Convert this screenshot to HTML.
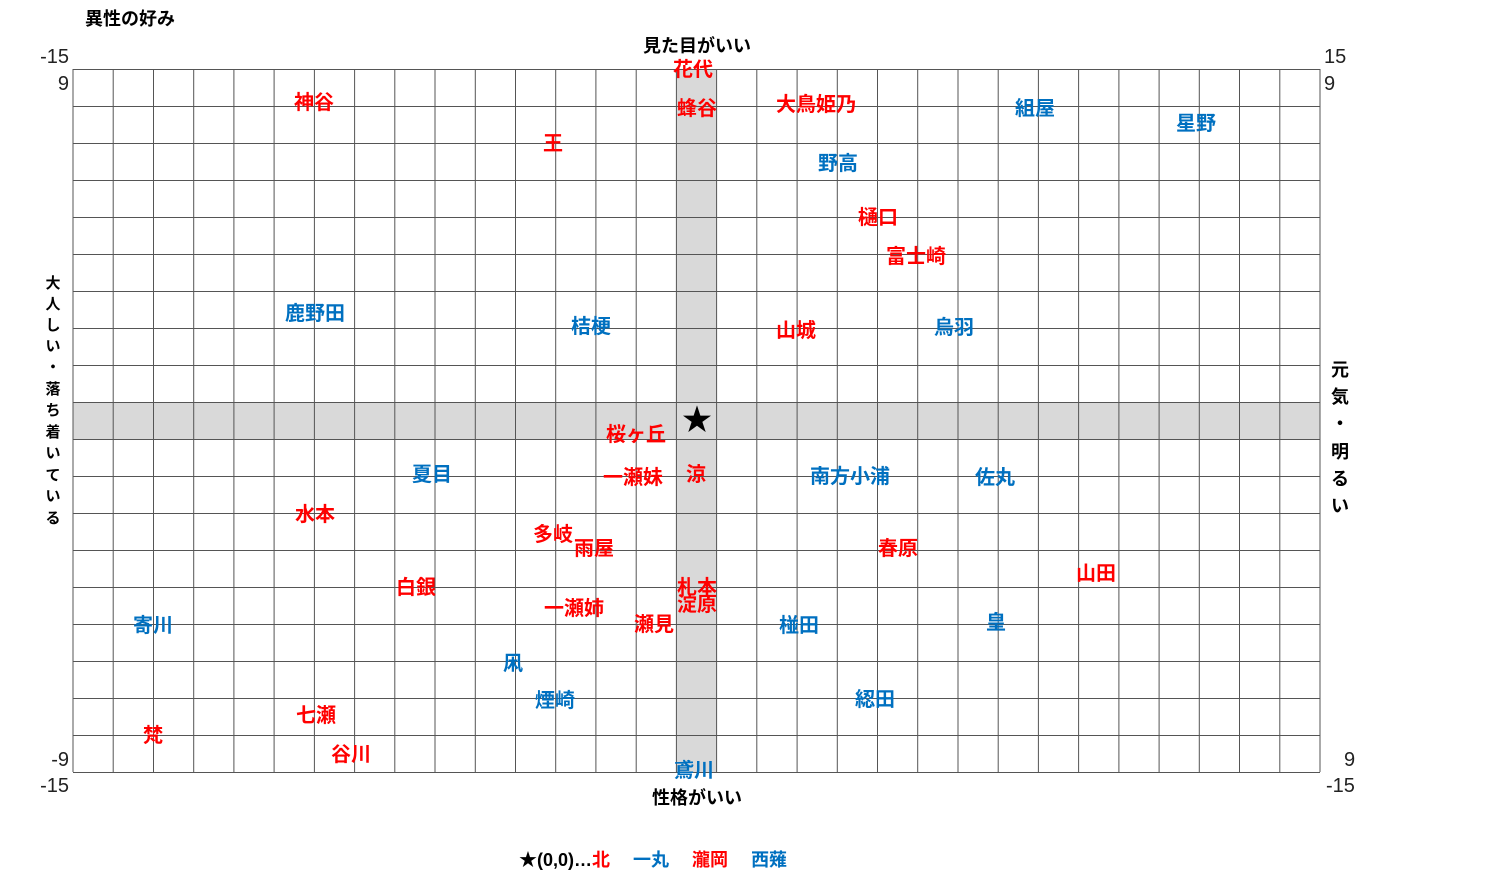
<!DOCTYPE html>
<html><head><meta charset="utf-8"><style>
body{margin:0;background:#fff;}
svg text{font-family:"Liberation Sans","Noto Sans CJK JP",sans-serif;}
.r{fill:#ff0000;font-weight:bold;font-size:20px;text-anchor:middle}
.b{fill:#0070c0;font-weight:bold;font-size:20px;text-anchor:middle}
.k{fill:#000;font-weight:bold;font-size:18px}
.n{fill:#222;font-size:20px}
.v{fill:#000;font-weight:bold;font-size:15px;text-anchor:middle}
</style></head><body>
<svg width="1490" height="878" xmlns="http://www.w3.org/2000/svg">
<rect x="676.4" y="69" width="40.2" height="703" fill="#d9d9d9"/>
<rect x="73" y="402" width="1247" height="37" fill="#d9d9d9"/>
<path fill="none" stroke="#555" stroke-width="1" d="
M73,69V772 M113.2,69V772 M153.5,69V772 M193.7,69V772 M233.9,69V772 M274.1,69V772 M314.4,69V772 M354.6,69V772 M394.8,69V772 M435,69V772 M475.3,69V772 M515.5,69V772 M555.7,69V772 M595.9,69V772 M636.2,69V772 M676.4,69V772 M716.6,69V772 M756.8,69V772 M797.1,69V772 M837.3,69V772 M877.5,69V772 M917.7,69V772 M958,69V772 M998.2,69V772 M1038.4,69V772 M1078.6,69V772 M1118.9,69V772 M1159.1,69V772 M1199.3,69V772 M1239.5,69V772 M1279.8,69V772 M1320,69V772
M73,69.5H1320 M73,106.5H1320 M73,143.5H1320 M73,180.5H1320 M73,217.5H1320 M73,254.5H1320 M73,291.5H1320 M73,328.5H1320 M73,365.5H1320 M73,402.5H1320 M73,439.5H1320 M73,476.5H1320 M73,513.5H1320 M73,550.5H1320 M73,587.5H1320 M73,624.5H1320 M73,661.5H1320 M73,698.5H1320 M73,735.5H1320 M73,772.5H1320"/>
<text class="k" x="85" y="25">異性の好み</text>
<text class="k" x="697" y="52" text-anchor="middle">見た目がいい</text>
<text class="k" x="697" y="804" text-anchor="middle">性格がいい</text>
<text class="n" x="69" y="63" text-anchor="end">-15</text>
<text class="n" x="69" y="90" text-anchor="end">9</text>
<text class="n" x="69" y="766" text-anchor="end">-9</text>
<text class="n" x="69" y="792" text-anchor="end">-15</text>
<text class="n" x="1324" y="63">15</text>
<text class="n" x="1324" y="90">9</text>
<text class="n" x="1344" y="766">9</text>
<text class="n" x="1326" y="792">-15</text>
<text class="v" x="53" y="288">大</text><text class="v" x="53" y="309">人</text><text class="v" x="53" y="330">し</text><text class="v" x="53" y="351">い</text><text class="v" x="53" y="372">・</text><text class="v" x="53" y="394">落</text><text class="v" x="53" y="415">ち</text><text class="v" x="53" y="437">着</text><text class="v" x="53" y="458">い</text><text class="v" x="53" y="480">て</text><text class="v" x="53" y="501">い</text><text class="v" x="53" y="523">る</text>
<text class="k" x="1340" y="376" text-anchor="middle">元</text><text class="k" x="1340" y="403" text-anchor="middle">気</text><text class="k" x="1340" y="430" text-anchor="middle">・</text><text class="k" x="1340" y="458" text-anchor="middle">明</text><text class="k" x="1340" y="485" text-anchor="middle">る</text><text class="k" x="1340" y="512" text-anchor="middle">い</text>
<text x="697" y="430" font-size="30" text-anchor="middle">★</text>
<text class="r" x="693" y="76">花代</text>
<text class="r" x="314" y="109">神谷</text>
<text class="r" x="697" y="115">蜂谷</text>
<text class="r" x="816" y="111">大鳥姫乃</text>
<text class="b" x="1035" y="115">組屋</text>
<text class="b" x="1196" y="130">星野</text>
<text class="r" x="553" y="150">王</text>
<text class="b" x="838" y="170">野高</text>
<text class="r" x="878" y="224">樋口</text>
<text class="r" x="916" y="263">富士崎</text>
<text class="b" x="315" y="320">鹿野田</text>
<text class="b" x="591" y="333">桔梗</text>
<text class="r" x="796" y="337">山城</text>
<text class="b" x="954" y="334">烏羽</text>
<text class="r" x="636" y="441">桜ヶ丘</text>
<text class="r" x="633" y="484">一瀬妹</text>
<text class="r" x="696" y="481">涼</text>
<text class="b" x="432" y="481">夏目</text>
<text class="b" x="850" y="483">南方小浦</text>
<text class="b" x="995" y="484">佐丸</text>
<text class="r" x="315" y="521">水本</text>
<text class="r" x="553" y="541">多岐</text>
<text class="r" x="594" y="555">雨屋</text>
<text class="r" x="898" y="555">春原</text>
<text class="r" x="1096" y="580">山田</text>
<text class="r" x="416" y="594">白銀</text>
<text class="r" x="697" y="594">札本</text>
<text class="r" x="697" y="611">淀原</text>
<text class="r" x="574" y="615">一瀬姉</text>
<text class="r" x="654" y="631">瀬見</text>
<text class="b" x="153" y="632">寄川</text>
<text class="b" x="799" y="632">椪田</text>
<text class="b" x="996" y="629">皇</text>
<text class="b" x="513" y="670">凩</text>
<text class="b" x="555" y="707">煙崎</text>
<text class="b" x="875" y="706">綛田</text>
<text class="r" x="316" y="722">七瀬</text>
<text class="r" x="153" y="742">梵</text>
<text class="r" x="351" y="761">谷川</text>
<text class="b" x="694" y="777">鳶川</text>
<text x="519" y="866" font-size="18" font-weight="bold">★(0,0)…<tspan fill="#ff0000">北</tspan>　 <tspan fill="#0070c0">一丸</tspan>　 <tspan fill="#ff0000">瀧岡</tspan>　 <tspan fill="#0070c0">西薙</tspan></text>
</svg>
</body></html>
